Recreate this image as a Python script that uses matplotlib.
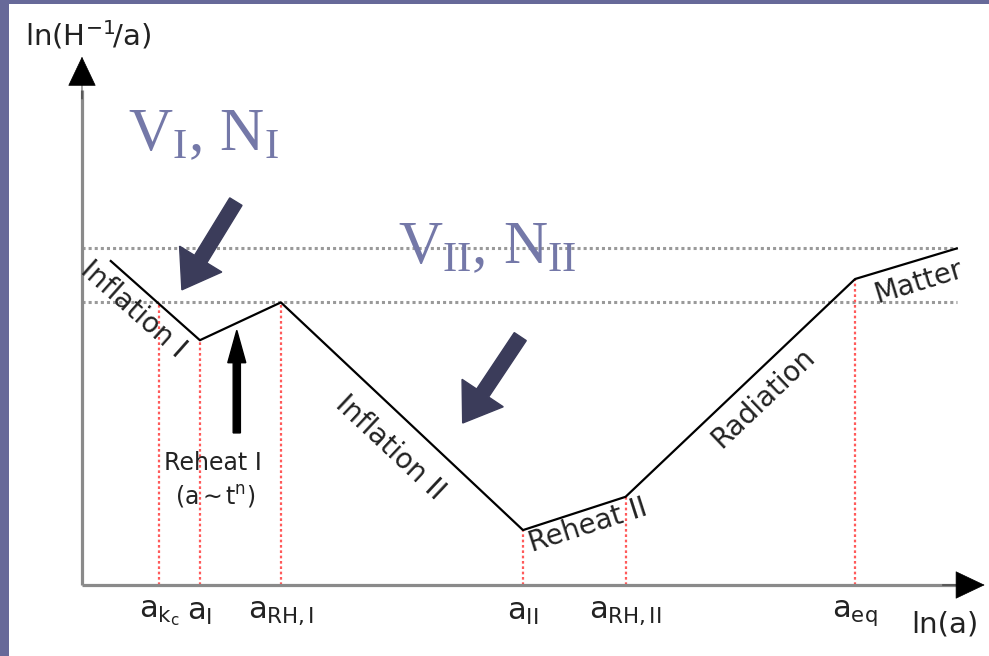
import matplotlib.pyplot as plt

plt.rcParams['mathtext.fontset'] = 'custom'
plt.rcParams['mathtext.rm'] = 'Liberation Serif'
plt.rcParams['mathtext.sf'] = 'DejaVu Sans'
plt.rcParams['mathtext.it'] = 'Liberation Serif:italic'

# breakpoints of the comoving Hubble radius, ln(H^-1/a) against ln(a)
ln_a = [0.32, 1.31, 2.21, 4.90, 6.04, 8.59, 9.72]
ln_h = [3.60, 2.72, 3.14, 0.61, 0.98, 3.40, 3.74]

# scale factors marked on the ln(a) axis
mark_x = [0.86, 1.31, 2.21, 4.90, 6.04, 8.59]
mark_top = [3.14, 2.72, 3.14, 0.61, 0.98, 3.40]
mark_labels = [r'$\mathsf{a_{k_c}}$', r'$\mathsf{a_{I}}$', r'$\mathsf{a_{RH,I}}$',
               r'$\mathsf{a_{II}}$', r'$\mathsf{a_{RH,II}}$', r'$\mathsf{a_{eq}}$']

# horizontal reference levels (grey dotted)
levels = [3.74, 3.14]

# labels written along the curve
phase_names = ['Inflation I', 'Inflation II', 'Reheat II', 'Radiation', 'Matter']
phase_x = [0.57, 3.42, 5.62, 7.57, 9.30]
phase_y = [3.06, 1.53, 0.66, 2.08, 3.37]
phase_rot = [-41.6, -43.2, 17.8, 43.6, 17.0]

slate = '#7478a8'
navy = '#3b3c5a'

fig = plt.figure(figsize=(9.89, 6.56), dpi=100, facecolor='#676999')
ax = fig.add_axes([9 / 989, 0, 1 - 9 / 989, 1 - 4 / 656])
ax.set_facecolor('white')
ax.set_xlim(-0.811, 10.078)
ax.set_ylim(-0.789, 6.456)
for s in ax.spines.values():
    s.set_visible(False)
ax.set_xticks([])
ax.set_yticks([])

# axes with arrow heads
ax.plot([0, 0], [0, 5.5], color='#8a8a8a', lw=2.3, solid_capstyle='butt', zorder=2)
ax.plot([0, 9.75], [0, 0], color='#8a8a8a', lw=2.3, solid_capstyle='butt', zorder=2)
head = '-|>,head_length=2.0,head_width=0.95'
ax.annotate('', xy=(0, 5.87), xytext=(0, 5.4),
            arrowprops=dict(arrowstyle=head, color='black', lw=0.5,
                            shrinkA=0, shrinkB=0), zorder=3)
ax.annotate('', xy=(10.03, 0), xytext=(9.56, 0),
            arrowprops=dict(arrowstyle=head, color='black', lw=0.5,
                            shrinkA=0, shrinkB=0), zorder=3)

# reference levels
for lv in levels:
    ax.plot([0, ln_a[-1]], [lv, lv], color='#9a9a9a', lw=2.2,
            dashes=(1, 1), zorder=1)

# vertical markers
for x, top in zip(mark_x, mark_top):
    ax.plot([x, x], [0, top], color='#ff5a5a', lw=1.6, dashes=(1.2, 1.2), zorder=1)

# curve
ax.plot(ln_a, ln_h, color='black', lw=1.6, zorder=4)

# tick labels
for x, lab in zip(mark_x, mark_labels):
    ax.text(x, -0.15, lab, ha='center', va='top', fontsize=22, color='#222222')

ax.text(9.59, -0.44, 'ln(a)', ha='center', va='center', fontsize=21, color='#222222')
ax.text(0.07, 6.11, r'$\mathsf{ln(H^{-1}\!/a)}$', ha='center', va='center',
        fontsize=21, color='#222222')

# phase labels along the curve
for name, x, y, r in zip(phase_names, phase_x, phase_y, phase_rot):
    ax.text(x, y, name, ha='center', va='center', rotation=r,
            rotation_mode='anchor', fontsize=20, color='#222222')

ax.text(1.45, 1.36, 'Reheat I', ha='center', va='center', fontsize=17, color='#222222')
ax.text(1.48, 0.98, r'$\mathsf{(a{\sim}t^{n})}$', ha='center', va='center',
        fontsize=17, color='#222222')

# big annotations
ax.text(0.51, 4.83, r'$\mathrm{V_{I},\,N_{I}}$', ha='left', va='baseline',
        fontsize=44, color=slate)
ax.text(3.51, 3.58, r'$\mathrm{V_{II},\,N_{II}}$', ha='left', va='baseline',
        fontsize=44, color=slate)

ax.arrow(1.71, 4.26, -0.60, -0.98, width=0.16, head_width=0.55, head_length=0.40,
         length_includes_head=True, color=navy, zorder=5)
ax.arrow(4.87, 2.76, -0.64, -0.96, width=0.16, head_width=0.55, head_length=0.40,
         length_includes_head=True, color=navy, zorder=5)
ax.arrow(1.72, 1.69, 0, 1.14, width=0.08, head_width=0.2, head_length=0.36,
         length_includes_head=True, color='black', zorder=5)

fig.savefig('out.png', dpi=100, facecolor=fig.get_facecolor())
